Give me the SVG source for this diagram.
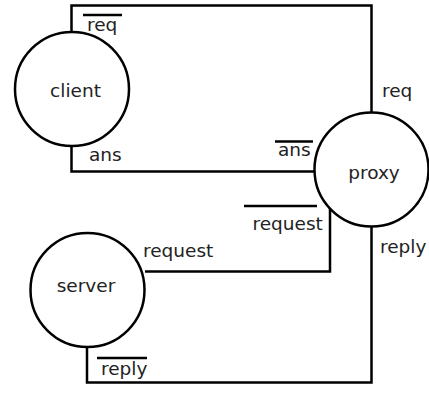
<svg xmlns="http://www.w3.org/2000/svg" width="429" height="393" viewBox="0 0 429 393">
  <style>
    .node { fill: #ffffff; stroke: #000000; stroke-width: 2.5; }
    .wire { fill: none; stroke: #000000; stroke-width: 2.5; }
    .bar { stroke: #000000; stroke-width: 2.5; }
    text { font-family: "DejaVu Sans", sans-serif; font-size: 18.5px; fill: #222222; }
    .mid { text-anchor: middle; }
  </style>
  <rect width="429" height="393" fill="#ffffff"/>

  <!-- channels between processes -->
  <g id="connectors">
    <path class="wire" d="M71.5,32 V5.5 H371.5 V112.5"/>
    <path class="wire" d="M71.5,146 V171.5 H314.5"/>
    <path class="wire" d="M145,271.5 H330 V207"/>
    <path class="wire" d="M371.5,226.5 V382.5 H87 V347"/>

    <text x="87" y="31">req</text>
    <line class="bar" x1="83" y1="15" x2="122" y2="15"/>
    <text x="89" y="161">ans</text>
    <text x="382" y="97">req</text>
    <text x="278" y="156">ans</text>
    <line class="bar" x1="275" y1="141.5" x2="313" y2="141.5"/>
    <text x="252.5" y="230">request</text>
    <line class="bar" x1="244" y1="206" x2="317" y2="206"/>
    <text x="143" y="257">request</text>
    <text x="380" y="253">reply</text>
    <text x="101" y="375">reply</text>
    <line class="bar" x1="97" y1="358" x2="147" y2="358"/>
  </g>

  <g id="client">
    <circle class="node" cx="72" cy="89" r="57"/>
    <text class="mid" x="75.5" y="96.5">client</text>
  </g>

  <g id="proxy">
    <circle class="node" cx="371.5" cy="169.5" r="57"/>
    <text class="mid" x="374" y="179">proxy</text>
  </g>

  <g id="server">
    <circle class="node" cx="87.5" cy="290" r="57"/>
    <text class="mid" x="86" y="291.5">server</text>
  </g>
</svg>
